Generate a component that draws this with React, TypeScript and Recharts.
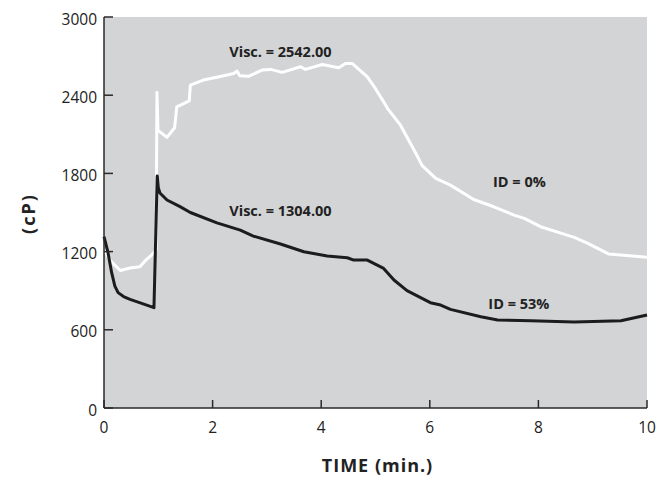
import React from 'react';
import { LineChart, Line, XAxis, YAxis, CartesianGrid, ReferenceDot } from 'recharts';

// ID = 0% (white curve): time (min.), viscosity (cP)
const whiteTime = [0.0, 0.12, 0.3, 0.48, 0.66, 0.76, 0.88, 0.96, 0.975, 0.995, 1.16, 1.3, 1.34, 1.57, 1.59, 1.83, 2.1, 2.39, 2.45, 2.5, 2.66, 2.91, 3.07, 3.28, 3.62, 3.71, 4.02, 4.32, 4.45, 4.57, 4.85, 5.0, 5.15, 5.22, 5.46, 5.71, 5.86, 6.11, 6.38, 6.81, 7.18, 7.55, 7.74, 8.04, 8.66, 8.91, 9.3, 10.0];
const whiteVisc = [1212, 1130, 1055, 1074, 1084, 1130, 1175, 1215, 2421, 2130, 2076, 2150, 2311, 2357, 2477, 2516, 2540, 2567, 2585, 2550, 2545, 2593, 2598, 2575, 2618, 2598, 2636, 2610, 2644, 2644, 2541, 2450, 2349, 2299, 2170, 1979, 1860, 1762, 1710, 1600, 1544, 1480, 1455, 1391, 1309, 1263, 1181, 1156];

// ID = 53% (black curve)
const blackTime = [0.0, 0.07, 0.14, 0.2, 0.26, 0.36, 0.48, 0.92, 0.98, 1.0, 1.03, 1.16, 1.4, 1.59, 2.08, 2.51, 2.75, 3.25, 3.68, 4.11, 4.48, 4.6, 4.85, 5.15, 5.34, 5.58, 6.01, 6.2, 6.38, 6.94, 7.25, 7.86, 8.66, 9.52, 10.0];
const blackVisc = [1314, 1200, 1040, 935, 885, 855, 834, 770, 1780, 1690, 1650, 1596, 1545, 1500, 1420, 1365, 1319, 1258, 1199, 1166, 1153, 1135, 1135, 1071, 982, 900, 808, 790, 757, 700, 675, 670, 660, 670, 713];

const xTicks = [0, 2, 4, 6, 8, 10];
const yTicks = [0, 600, 1200, 1800, 2400, 3000];

const noteTexts = ['Visc. = 2542.00', 'Visc. = 1304.00', 'ID = 0%', 'ID = 53%'];
const noteTime = [3.25, 3.25, 7.65, 7.64];
const noteVisc = [2731, 1512, 1734, 798];

const whiteData = whiteTime.map((t, i) => ({ t, v: whiteVisc[i] }));
const blackData = blackTime.map((t, i) => ({ t, v: blackVisc[i] }));

const axisColor = '#2a2a2a';
const tickFont = { fill: '#222', fontSize: 15.5, fontFamily: '"Open Sans", sans-serif' };

const XTitle = (props: any) => {
  const vb = props.viewBox || {};
  const cx = vb.x + vb.width / 2;
  return (
    <text x={cx + 2} y={464} textAnchor="middle" fontFamily='"Open Sans", sans-serif' fontWeight={700} fontSize={18} letterSpacing={1} fill="#222">
      TIME (min.)
    </text>
  );
};

const YTitle = (props: any) => {
  const vb = props.viewBox || {};
  const cy = vb.y + vb.height / 2;
  const cx = 20;
  return (
    <text x={cx} y={cy + 1} transform={`rotate(-90, ${cx}, ${cy + 1})`} textAnchor="middle" dominantBaseline="central" fontFamily='"Open Sans", sans-serif' fontWeight={700} fontSize={18} letterSpacing={2} fill="#222">
      (cP)
    </text>
  );
};

export default function App() {
  return (
    <LineChart width={659} height={473} margin={{ top: 9, right: 20, bottom: 0, left: 0 }}>
      <CartesianGrid fill="#d3d4d6" stroke="none" horizontal={false} vertical={false} />
      <XAxis
        type="number"
        dataKey="t"
        domain={[0, 10]}
        ticks={xTicks}
        height={73}
        allowDuplicatedCategory={false}
        stroke={axisColor}
        strokeWidth={1.5}
        tickSize={-8}
        tickMargin={22}
        tick={tickFont}
        tickLine={{ stroke: axisColor, strokeWidth: 1.5 }}
        label={<XTitle />}
      />
      <YAxis
        type="number"
        dataKey="v"
        domain={[0, 3000]}
        ticks={yTicks}
        width={96}
        stroke={axisColor}
        strokeWidth={1.5}
        tickSize={-9}
        tickMargin={16}
        tick={{ ...tickFont, dy: 2 }}
        tickLine={{ stroke: axisColor, strokeWidth: 1.5 }}
        label={<YTitle />}
      />
      <Line data={whiteData} dataKey="v" type="linear" stroke="#ffffff" strokeWidth={3} dot={false} activeDot={false} isAnimationActive={false} strokeLinejoin="round" />
      <Line data={blackData} dataKey="v" type="linear" stroke="#1c1c1c" strokeWidth={3} dot={false} activeDot={false} isAnimationActive={false} strokeLinejoin="round" />
      {noteTexts.map((txt, i) => (
        <ReferenceDot
          key={txt}
          x={noteTime[i]}
          y={noteVisc[i]}
          r={0}
          fill="none"
          stroke="none"
          ifOverflow="visible"
          label={{ value: txt, position: 'center', fill: '#222', fontSize: 14.5, fontWeight: 700, fontFamily: '"Open Sans", sans-serif' }}
        />
      ))}
    </LineChart>
  );
}
